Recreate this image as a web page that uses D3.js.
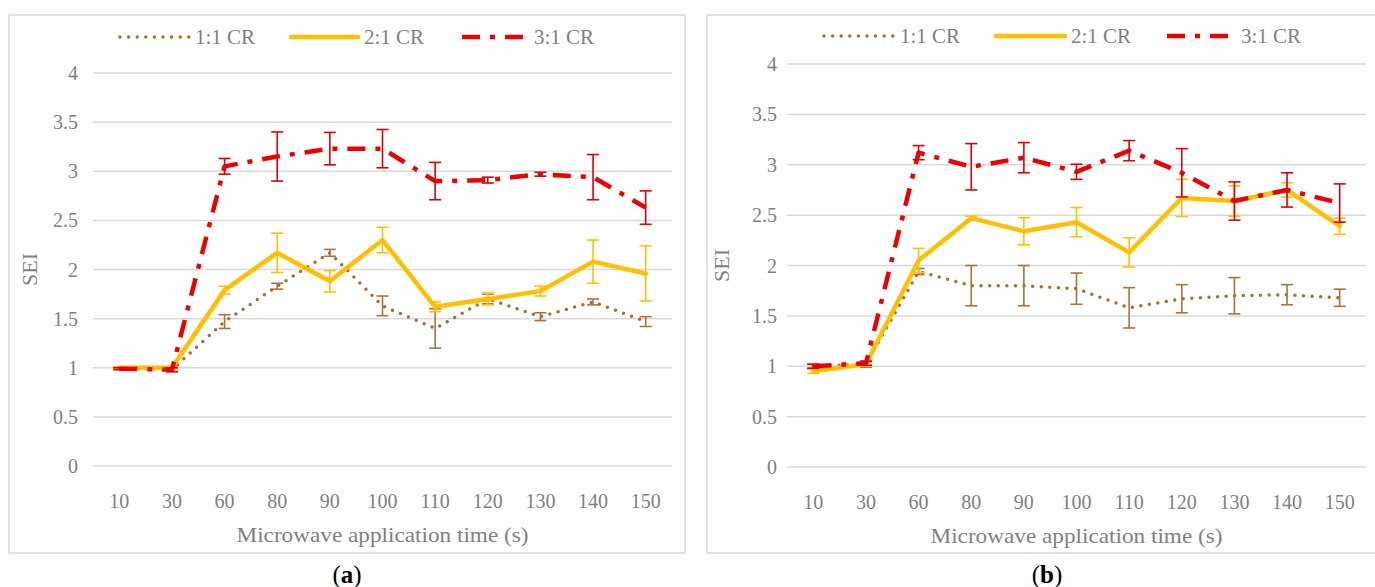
<!DOCTYPE html>
<html lang="en">
<head>
<meta charset="UTF-8">
<title>SEI vs microwave application time</title>
<style>
  body { margin: 0; background: #fff; }
  svg { display: block; }
  text { font-family: "Liberation Serif", "DejaVu Serif", serif; fill: #7f7f7f; }
</style>
<script src="https://d3js.org/d3.v7.min.js"></script>
</head>
<body>
<svg id="chart" width="1375" height="587"></svg>
<script>
// categories (x axis) and series names
const categories = ["10", "30", "60", "80", "90", "100", "110", "120", "130", "140", "150"];
const seriesNames = ["1:1 CR", "2:1 CR", "3:1 CR"];
const yTicks = [0, 0.5, 1, 1.5, 2, 2.5, 3, 3.5, 4];

// panel (a) values and error half-widths
const a11 = [1.00, 0.98, 1.47, 1.83, 2.17, 1.63, 1.40, 1.70, 1.52, 1.67, 1.47];
const a11Err = [0.01, 0.02, 0.07, 0.03, 0.035, 0.10, 0.20, 0.05, 0.04, 0.03, 0.05];
const a21 = [1.00, 1.00, 1.79, 2.17, 1.88, 2.30, 1.62, 1.70, 1.78, 2.08, 1.96];
const a21Err = [0.01, 0.01, 0.04, 0.20, 0.11, 0.13, 0.05, 0.06, 0.05, 0.22, 0.28];
const a31 = [0.99, 0.98, 3.05, 3.15, 3.23, 3.23, 2.90, 2.91, 2.97, 2.94, 2.63];
const a31Err = [0.01, 0.02, 0.08, 0.25, 0.165, 0.195, 0.19, 0.03, 0.02, 0.23, 0.17];

// panel (b) values and error half-widths
const b11 = [1.00, 1.02, 1.94, 1.80, 1.80, 1.77, 1.58, 1.67, 1.70, 1.71, 1.68];
const b11Err = [0.02, 0.03, 0.03, 0.20, 0.20, 0.155, 0.20, 0.14, 0.18, 0.10, 0.085];
const b21 = [0.95, 1.02, 2.05, 2.47, 2.34, 2.43, 2.13, 2.67, 2.64, 2.75, 2.39];
const b21Err = [0.02, 0.02, 0.12, 0.02, 0.135, 0.145, 0.145, 0.185, 0.15, 0.07, 0.08];
const b31 = [1.00, 1.03, 3.12, 2.98, 3.07, 2.93, 3.14, 2.92, 2.64, 2.75, 2.62];
const b31Err = [0.02, 0.02, 0.07, 0.23, 0.15, 0.075, 0.10, 0.24, 0.19, 0.17, 0.19];

const styles = [
    {color: "#ad6b2f", width: 3.5, dash: "0,8.6", cap: "round", errColor: "#b0703a"},
    {color: "#ffc000", width: 4.5, dash: null, cap: "round", errColor: "#ffc000"},
    {color: "#ee0000", width: 4.5, dash: "18,10,5,10", cap: "butt", errColor: "#e00000"}
];

const svg = d3.select("#chart");

function drawPanel(p) {
    const g = svg.append("g");

    // outer chart border
    g.append("rect")
        .attr("x", p.box[0]).attr("y", p.box[1])
        .attr("width", p.box[2]).attr("height", p.box[3])
        .attr("fill", "#fff").attr("stroke", "#d9d9d9").attr("stroke-width", 1.5);

    const x = d3.scaleBand().domain(categories).range(p.xRange);
    const y = d3.scaleLinear().domain([0, 4]).range(p.yRange);
    const cx = d => x(d) + x.bandwidth() / 2;

    // gridlines
    g.append("g").selectAll("line").data(yTicks).enter().append("line")
        .attr("x1", p.xRange[0]).attr("x2", p.xRange[1])
        .attr("y1", d => y(d)).attr("y2", d => y(d))
        .attr("stroke", "#d9d9d9").attr("stroke-width", 1.5);

    // y tick labels
    g.append("g").selectAll("text").data(yTicks).enter().append("text")
        .attr("x", p.yLabelX).attr("y", d => y(d) + 7)
        .attr("text-anchor", "end").attr("font-size", 20)
        .text(d => d);

    // x tick labels
    g.append("g").selectAll("text").data(categories).enter().append("text")
        .attr("x", d => cx(d)).attr("y", p.xLabelY)
        .attr("text-anchor", "middle").attr("font-size", 20)
        .text(d => d);

    g.append("text")
        .attr("x", (p.xRange[0] + p.xRange[1]) / 2).attr("y", p.titleY)
        .attr("text-anchor", "middle").attr("font-size", 22)
        .attr("textLength", 292).attr("lengthAdjust", "spacingAndGlyphs")
        .text("Microwave application time (s)");

    g.append("text")
        .attr("transform", `translate(${p.seiX},${(p.yRange[0] + p.yRange[1]) / 2}) rotate(-90)`)
        .attr("text-anchor", "middle").attr("font-size", 22)
        .text("SEI");

    const line = d3.line().x((d, i) => cx(categories[i])).y(d => y(d));

    p.series.forEach((s, k) => {
        const st = styles[k];
        const path = g.append("path")
            .datum(s.values)
            .attr("d", line)
            .attr("fill", "none")
            .attr("stroke", st.color)
            .attr("stroke-width", st.width)
            .attr("stroke-linecap", st.cap)
            .attr("stroke-linejoin", "round");
        if (st.dash) path.attr("stroke-dasharray", st.dash);

        const eg = g.append("g").attr("stroke", st.errColor).attr("stroke-width", 1.6);
        s.values.forEach((v, i) => {
            const xc = cx(categories[i]);
            const e = s.err[i];
            eg.append("line").attr("x1", xc).attr("x2", xc).attr("y1", y(v - e)).attr("y2", y(v + e));
            eg.append("line").attr("x1", xc - 6).attr("x2", xc + 6).attr("y1", y(v - e)).attr("y2", y(v - e));
            eg.append("line").attr("x1", xc - 6).attr("x2", xc + 6).attr("y1", y(v + e)).attr("y2", y(v + e));
        });
    });

    // legend
    seriesNames.forEach((name, k) => {
        const st = styles[k];
        const L = p.legend[k];
        const ln = g.append("line")
            .attr("x1", L[0]).attr("x2", L[1]).attr("y1", p.legendY).attr("y2", p.legendY)
            .attr("stroke", st.color).attr("stroke-width", st.width)
            .attr("stroke-linecap", st.cap);
        if (st.dash) ln.attr("stroke-dasharray", st.dash);
        g.append("text").attr("x", L[1] + 6).attr("y", p.legendY + 7)
            .attr("font-size", 21).text(name);
    });

    // caption
    g.append("text")
        .attr("x", p.box[0] + p.box[2] / 2).attr("y", 583)
        .attr("text-anchor", "middle").attr("font-size", 25)
        .style("fill", "#000")
        .html('(<tspan font-weight="bold">' + p.caption + '</tspan>)');
}

drawPanel({
    box: [9, 15, 676, 538],
    xRange: [93, 672],
    yRange: [466, 73],
    yLabelX: 78,
    xLabelY: 508,
    titleY: 542,
    seiX: 37,
    legendY: 37,
    legend: [[120, 189], [291, 358], [462, 528]],
    caption: "a",
    series: [
        {values: a11, err: a11Err},
        {values: a21, err: a21Err},
        {values: a31, err: a31Err}
    ]
});

drawPanel({
    box: [707, 15, 680, 538],
    xRange: [787, 1366],
    yRange: [467, 64],
    yLabelX: 777,
    xLabelY: 509,
    titleY: 543,
    seiX: 729,
    legendY: 36,
    legend: [[824, 894], [996, 1065], [1167, 1235]],
    caption: "b",
    series: [
        {values: b11, err: b11Err},
        {values: b21, err: b21Err},
        {values: b31, err: b31Err}
    ]
});
</script>
</body>
</html>
